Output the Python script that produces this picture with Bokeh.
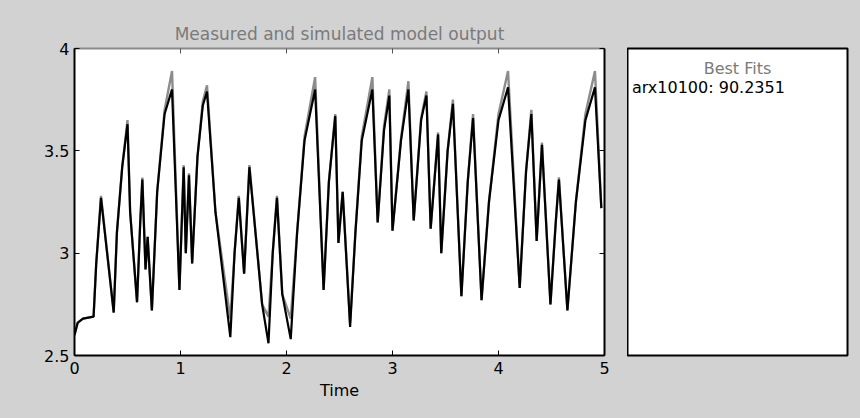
from bokeh.plotting import figure
from bokeh.models import Range1d, FixedTicker, LinearAxis, Label
from bokeh.layouts import row
from bokeh.embed import file_html
from bokeh.resources import INLINE

# ---- data ----
time = [0.000, 0.030, 0.080, 0.180, 0.205, 0.250, 0.370, 0.400, 0.450, 0.500,
        0.525, 0.590, 0.620, 0.640, 0.670, 0.690, 0.730, 0.780, 0.850, 0.920,
        0.990, 1.030, 1.050, 1.080, 1.110, 1.160, 1.210, 1.250, 1.330, 1.470,
        1.510, 1.550, 1.600, 1.650, 1.770, 1.830, 1.870, 1.910, 1.960, 2.040,
        2.100, 2.170, 2.270, 2.350, 2.400, 2.460, 2.490, 2.530, 2.600, 2.650,
        2.710, 2.810, 2.860, 2.920, 2.970, 3.000, 3.080, 3.150, 3.200, 3.270,
        3.320, 3.360, 3.430, 3.460, 3.520, 3.570, 3.650, 3.710, 3.760, 3.840,
        3.910, 4.000, 4.090, 4.200, 4.260, 4.310, 4.360, 4.410, 4.490, 4.540,
        4.570, 4.650, 4.730, 4.820, 4.910, 4.970]

simulated = [2.60, 2.66, 2.68, 2.69, 2.95, 3.27, 2.71, 3.10, 3.42, 3.63,
             3.20, 2.76, 3.15, 3.36, 2.92, 3.08, 2.72, 3.30, 3.68, 3.80,
             2.82, 3.42, 3.00, 3.38, 2.95, 3.47, 3.72, 3.79, 3.20, 2.59,
             3.00, 3.27, 2.90, 3.42, 2.75, 2.56, 3.00, 3.27, 2.80, 2.58,
             3.10, 3.55, 3.80, 2.82, 3.35, 3.67, 3.05, 3.30, 2.64, 3.10,
             3.55, 3.80, 3.15, 3.60, 3.77, 3.11, 3.55, 3.80, 3.16, 3.65,
             3.77, 3.12, 3.58, 3.00, 3.50, 3.73, 2.79, 3.35, 3.66, 2.77,
             3.25, 3.65, 3.81, 2.83, 3.40, 3.68, 3.06, 3.53, 2.75, 3.15,
             3.36, 2.72, 3.25, 3.65, 3.81, 3.22]

measured = [2.60, 2.66, 2.68, 2.69, 2.95, 3.28, 2.71, 3.10, 3.42, 3.65,
            3.20, 2.76, 3.15, 3.37, 2.92, 3.08, 2.72, 3.30, 3.70, 3.89,
            2.82, 3.43, 3.00, 3.39, 2.95, 3.47, 3.74, 3.82, 3.20, 2.68,
            3.00, 3.28, 2.90, 3.43, 2.75, 2.69, 3.00, 3.28, 2.80, 2.68,
            3.10, 3.57, 3.86, 2.82, 3.35, 3.68, 3.05, 3.30, 2.66, 3.10,
            3.57, 3.86, 3.15, 3.62, 3.80, 3.11, 3.56, 3.84, 3.16, 3.66,
            3.79, 3.12, 3.59, 3.00, 3.50, 3.75, 2.79, 3.35, 3.68, 2.77,
            3.25, 3.68, 3.89, 2.83, 3.40, 3.70, 3.06, 3.54, 2.75, 3.15,
            3.37, 2.72, 3.25, 3.68, 3.89, 3.22]

x_ticks = [0, 1, 2, 3, 4, 5]
y_ticks = [2.5, 3, 3.5, 4]
y_tick_labels = {2.5: "2.5", 3: "3", 3.5: "3.5", 4: "4"}

title_text = "Measured and simulated model output"
x_label = "Time"
legend_title = "Best Fits"
legend_entry = "arx10100: 90.2351"

BG = "#d2d2d2"
FONT = "DejaVu Sans"

p = figure(width=627, height=418, x_range=Range1d(0, 5), y_range=Range1d(2.5, 4),
           output_backend="svg", toolbar_location=None,
           min_border_left=74, min_border_right=23, min_border_top=48, min_border_bottom=63)
p.background_fill_color = "white"
p.border_fill_color = BG
p.outline_line_color = None
p.grid.grid_line_color = None

p.title.text = title_text
p.title.align = "center"
p.title.text_font = FONT
p.title.text_font_size = "17px"
p.title.text_font_style = "normal"
p.title.text_color = "#7a7a7a"

for ax in (p.xaxis, p.yaxis):
    ax.major_tick_in = 5
    ax.major_tick_out = 0
    ax.minor_tick_line_color = None
    ax.axis_line_color = "black"
    ax.axis_line_width = 2
    ax.major_tick_line_color = "black"
    ax.major_label_text_font = FONT
    ax.major_label_text_font_size = "16px"
    ax.major_label_text_color = "black"

p.xaxis.ticker = FixedTicker(ticks=x_ticks)
p.yaxis.ticker = FixedTicker(ticks=y_ticks)
p.yaxis.major_label_overrides = y_tick_labels
p.xaxis.major_label_standoff = 6
p.yaxis.major_label_standoff = 5
p.xaxis.axis_label = x_label
p.xaxis.axis_label_text_font = FONT
p.xaxis.axis_label_text_font_size = "16px"
p.xaxis.axis_label_text_font_style = "normal"
p.xaxis.axis_label_text_color = "black"
p.xaxis.axis_label_standoff = 4

top = LinearAxis(ticker=FixedTicker(ticks=x_ticks), major_label_text_font_size="1px",
                 major_label_text_color=None, major_label_standoff=0,
                 major_tick_in=5, major_tick_out=0, minor_tick_line_color=None,
                 axis_line_color="#8a8a8a", axis_line_width=2, major_tick_line_color="#555")
right = LinearAxis(ticker=FixedTicker(ticks=y_ticks), major_label_text_font_size="1px",
                   major_label_text_color=None, major_label_standoff=0,
                   major_tick_in=5, major_tick_out=0, minor_tick_line_color=None,
                   axis_line_color="black", axis_line_width=2, major_tick_line_color="black")
p.add_layout(top, "above")
p.add_layout(right, "right")

p.line(time, measured, line_color="#8c8c8c", line_width=2.4)
p.line(time, simulated, line_color="black", line_width=2.2)

# ---- Best fits panel ----
p2 = figure(width=233, height=418, x_range=Range1d(0, 1), y_range=Range1d(0, 1),
            output_backend="svg", toolbar_location=None, x_axis_type=None, y_axis_type=None,
            min_border_left=0, min_border_right=13, min_border_top=48, min_border_bottom=63)
p2.background_fill_color = "white"
p2.border_fill_color = BG
p2.outline_line_color = "black"
p2.outline_line_width = 2
p2.grid.grid_line_color = None

p2.add_layout(Label(x=0.5, y=0.935, text=legend_title, text_align="center",
                    text_baseline="middle", text_font=FONT, text_font_size="16px",
                    text_color="#7a7a7a"))
p2.add_layout(Label(x=0.02, y=0.873, text=legend_entry, text_align="left",
                    text_baseline="middle", text_font=FONT, text_font_size="16px",
                    text_color="black"))

layout = row(p, p2, spacing=0)
html = file_html(layout, INLINE)
html = html.replace("<head>", "<head><style>html,body{margin:0;background:%s;}</style>" % BG, 1)
open("out.html", "w").write(html)
